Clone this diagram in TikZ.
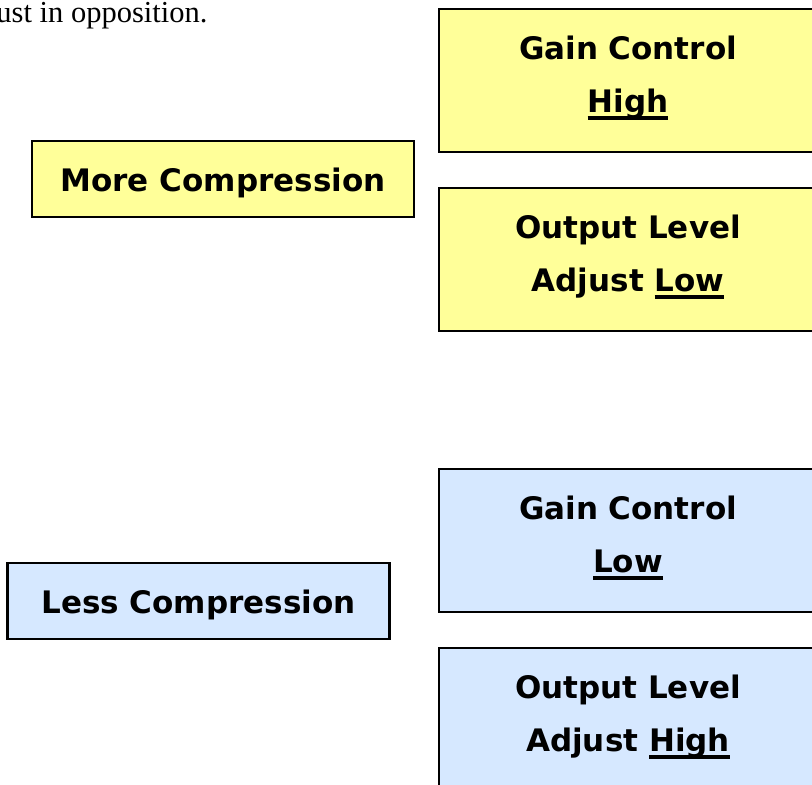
\documentclass[tikz,border=0pt]{standalone}
\usepackage{fontspec}
\setmainfont{Liberation Serif}
\newfontfamily\boxfont{DejaVu Sans}
\usetikzlibrary{positioning}

\definecolor{paleyellow}{RGB}{255,255,153}
\definecolor{paleblue}{RGB}{214,232,255}

% thick rule under a word
\newcommand{\lineunder}[1]{\setbox0\hbox{#1}\rlap{\rule[-7.5pt]{\wd0}{3.5pt}}\box0}

\begin{document}
\begin{tikzpicture}[
				x=1pt, y=-1pt,
				node distance=34pt,
				box/.style={
					draw=black,
					line width=2.2pt,
					align=center,
					inner sep=0pt,
					minimum width=378pt,
					minimum height=143pt,
					text height=63pt,
					text depth=0pt,
					font=\boxfont\bfseries\fontsize{31}{53}\selectfont
				},
				wide/.style={
					box,
					minimum width=382pt,
					minimum height=76pt,
					text height=24pt
				},
				yellowfill/.style={fill=paleyellow},
				bluefill/.style={fill=paleblue}
				]
				\useasboundingbox (0,0) rectangle (812,785);
				\clip (0,0) rectangle (812,785);
				
				\node[anchor=base east, font=\fontsize{30.5}{36}\selectfont] (intro) at (211,22)
				{ust in opposition.};
				
				% more compression
				\node[wide,yellowfill] (more) at (223,179) {More Compression};
				\node[box,yellowfill] (gainhigh) at (628,80.5)
				{Gain Control\\\lineunder{High}};
				\node[box,yellowfill,below=of gainhigh] (outlow)
				{Output Level\\Adjust \lineunder{Low}};
				
				% less compression
				\node[wide,bluefill] (less) at (198.5,601) {Less Compression};
				\node[box,bluefill] (gainlow) at (628,540.5)
				{Gain Control\\\lineunder{Low}};
				\node[box,bluefill,below=of gainlow] (outhigh)
				{Output Level\\Adjust \lineunder{High}};
			\end{tikzpicture}
\end{document}
